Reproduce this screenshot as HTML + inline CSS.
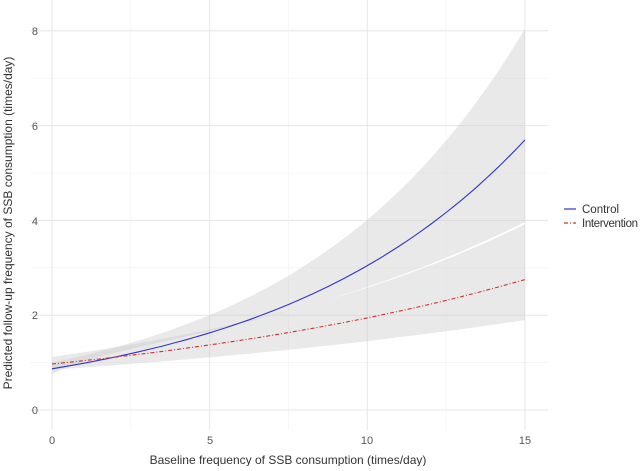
<!DOCTYPE html>
<html><head><meta charset="utf-8"><style>
body{margin:0;background:#fff;width:640px;height:466px;overflow:hidden}
text{font-family:"Liberation Sans",sans-serif;fill:#555}
</style></head><body>
<svg id="s" width="640" height="466" xmlns="http://www.w3.org/2000/svg">
<g id="grid"></g><g id="bands"></g><g id="lines"></g>
<g font-size="11">
<text x="38" y="35" text-anchor="end">8</text>
<text x="38" y="130" text-anchor="end">6</text>
<text x="38" y="225" text-anchor="end">4</text>
<text x="38" y="319" text-anchor="end">2</text>
<text x="38" y="414" text-anchor="end">0</text>
<text x="52" y="444" text-anchor="middle">0</text>
<text x="210" y="444" text-anchor="middle">5</text>
<text x="367" y="444" text-anchor="middle">10</text>
<text x="525" y="444" text-anchor="middle">15</text>
</g>
<text x="288" y="464" text-anchor="middle" font-size="12" style="fill:#333">Baseline frequency of SSB consumption (times/day)</text>
<text transform="translate(12,223) rotate(-90)" text-anchor="middle" font-size="12" style="fill:#333">Predicted follow-up frequency of SSB consumption (times/day)</text>
<line x1="564" y1="209" x2="576" y2="209" stroke="#3333cc" stroke-width="1.2"/>
<line x1="564" y1="223" x2="576" y2="223" stroke="#d03030" stroke-width="1.2" stroke-dasharray="4,2,1,2"/>
<text x="582" y="213" font-size="11.5" style="fill:#333">Control</text>
<text x="582" y="227" font-size="11.5" textLength="56" style="fill:#333">Intervention</text>
</svg>
<script>
var X=function(v){return 52+v*31.53},Y=function(v){return 410-v*47.4};
var ns="http://www.w3.org/2000/svg";
function el(p,t,a){var e=document.createElementNS(ns,t);for(var k in a)e.setAttribute(k,a[k]);document.getElementById(p).appendChild(e);}
for(var i=0;i<=8;i++)el("grid","line",{x1:30,x2:548,y1:Y(i),y2:Y(i),stroke:i%2?"#f2f2f2":"#e6e6e6","stroke-width":i%2?0.6:1});
for(var i=0;i<=6;i++)el("grid","line",{x1:X(i*2.5),x2:X(i*2.5),y1:0,y2:430,stroke:i%2?"#f2f2f2":"#e6e6e6","stroke-width":i%2?0.6:1});
function f(a,b){return function(x){return a*Math.exp(b*x)}}
var U=f(1.12,0.0835);
var L=function(x){return U(x)*(1.015-0.12*Math.exp(-x/4)-0.223*Math.exp(-x))};
function line(fn){var s="";for(var x=0;x<=15.001;x+=0.25)s+=(s?"L":"M")+X(x).toFixed(1)+","+Y(fn(x)).toFixed(1);return s}
function band(lo,hi){var s="";for(var x=0;x<=15.001;x+=0.25)s+=(s?"L":"M")+X(x).toFixed(1)+","+Y(hi(x)).toFixed(1);for(var x=15;x>=-0.001;x-=0.25)s+="L"+X(x).toFixed(1)+","+Y(lo(x)).toFixed(1);return s+"Z"}
el("bands","path",{d:band(L,f(1.0,0.139)),fill:"#c8c8c8","fill-opacity":0.4});
el("bands","path",{d:band(f(0.85,0.0536),U),fill:"#c8c8c8","fill-opacity":0.4});
el("lines","path",{d:line(f(0.87,0.1253)),fill:"none",stroke:"#3333cc","stroke-width":1.1});
el("lines","path",{d:line(f(0.97,0.0695)),fill:"none",stroke:"#d03030","stroke-width":1.1,"stroke-dasharray":"4,2,1,2"});
</script>
</body></html>
